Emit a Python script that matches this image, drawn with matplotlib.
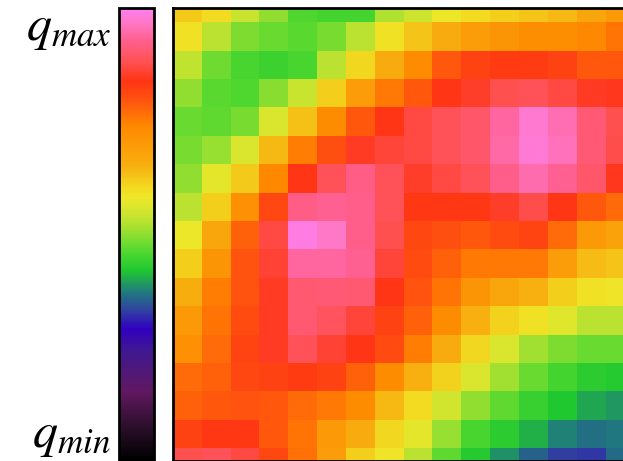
import numpy as np
import matplotlib
matplotlib.use('Agg')
import matplotlib.pyplot as plt
from matplotlib.colors import LinearSegmentedColormap

cmap_stops = [0, 8, 15, 24, 29, 33, 37, 42, 46, 51, 54, 58, 60, 65, 74, 80, 84, 88, 93, 97, 100]
cmap_colors = ['#000000', '#301030', '#601860', '#401890', '#3000c0', '#3040a0', '#207880',
               '#20c830', '#50d830', '#a0e030', '#c8e430', '#eee82a', '#f2dc22', '#f8b010',
               '#ff8800', '#ff5010', '#ff3414', '#ff5050', '#ff6090', '#ff78c8', '#ff80f0']

row_00 = [62, 60, 54, 50, 46, 45, 45, 52, 54.5, 58, 60, 61.5, 62.5, 64, 67, 70]
row_01 = [59, 53, 49, 47.5, 46.5, 48.5, 53, 59, 62.5, 66, 69, 71, 72.5, 72.5, 74, 76]
row_02 = [53.5, 48, 45.5, 44.5, 45.5, 53, 60.5, 66, 73, 79, 82, 83, 83, 82, 79, 79]
row_03 = [50, 46.5, 46, 49.5, 54, 61.5, 69.5, 75.5, 79, 84, 85.5, 88, 88.5, 87, 85, 84.5]
row_04 = [47.5, 47, 48.5, 56, 63, 73, 79, 84, 87, 88.5, 90, 94, 97.5, 95.5, 91, 88]
row_05 = [48.5, 50.5, 56, 64, 75, 80, 85, 86.5, 87, 88.5, 90, 94.5, 98, 96, 91, 87.5]
row_06 = [50, 57, 62, 74, 84, 88.5, 92, 88.5, 85.5, 87, 88.5, 92.5, 95, 93, 90, 84.5]
row_07 = [53, 61.5, 72, 81, 92, 93, 92.5, 88.5, 83.5, 83.5, 83.5, 85.5, 87.5, 84, 79, 77]
row_08 = [58, 67, 78, 87, 99, 97, 92.5, 88, 81, 80, 79, 80.5, 81.5, 77, 70, 68]
row_09 = [61.5, 71, 79.5, 86, 94, 94, 93, 86.5, 80.5, 78, 75.5, 75.5, 75.5, 69, 63.5, 62.5]
row_10 = [65.5, 75, 79.5, 85, 90.5, 91, 90.5, 84, 79.5, 76, 71, 67, 65, 61.5, 59, 58.5]
row_11 = [70, 76, 80.5, 85, 90.5, 89, 86.5, 82, 78, 73, 65, 61, 59, 56.5, 53, 53]
row_12 = [72, 77, 81.5, 85, 88.5, 86, 84, 80.5, 75, 66, 60.5, 56, 51, 49, 47.5, 47.5]
row_13 = [77, 78, 81, 82, 83, 82, 78, 73, 65, 61, 56, 51, 47.5, 45, 43, 42.5]
row_14 = [78, 79, 79.5, 79, 77, 75.5, 73, 64, 60, 55, 50, 47, 44, 42, 40, 39]
row_15 = [82, 83.5, 83.5, 79, 76, 70, 66, 60.5, 57, 50.5, 45.5, 43, 40.5, 37.5, 36.5, 37]
row_16 = [88, 88.5, 87, 81, 76.5, 69, 61.5, 58.5, 53, 47, 42.5, 38.5, 35.5, 33, 32.5, 36]

q_labels = ['$q_{max}$', '$q_{min}$']

rows = [row_00, row_01, row_02, row_03, row_04, row_05, row_06, row_07, row_08,
        row_09, row_10, row_11, row_12, row_13, row_14, row_15, row_16]
data = np.array(rows)

W, H = 623, 461
cmap = LinearSegmentedColormap.from_list('qmap', [(s / 100, c) for s, c in zip(cmap_stops, cmap_colors)], N=512)

plt.rcParams['mathtext.fontset'] = 'stix'
fig = plt.figure(figsize=(W / 100, H / 100), dpi=100)

ax = fig.add_axes([173 / W, 0, 1 - 173 / W + 0.01, (H - 8) / H])
im = ax.imshow(data, cmap=cmap, vmin=0, vmax=100, aspect='auto', interpolation='nearest',
               extent=(0, 16, 17, 0))
# the reference crops the map on the right and bottom, and part of the first row
ax.set_xlim(0, (623 - 173) / 28.4)
ax.set_ylim(16 + (461 - 448.3) / 28.33, 1 - (23.3 - 8) / 28.33)
ax.set_xticks([])
ax.set_yticks([])
for s in ax.spines.values():
    s.set_linewidth(2)

cax = fig.add_axes([119 / W, 1 - 460 / H, 35 / W, 452 / H])
cb = fig.colorbar(im, cax=cax)
cb.set_ticks([])
cb.outline.set_linewidth(2)

fig.text(111 / W, 1 - 40 / H, q_labels[0], fontsize=36, ha='right', va='baseline')
fig.text(111 / W, 1 - 447 / H, q_labels[1], fontsize=36, ha='right', va='baseline')

fig.savefig('out.png', dpi=100)
plt.close()
